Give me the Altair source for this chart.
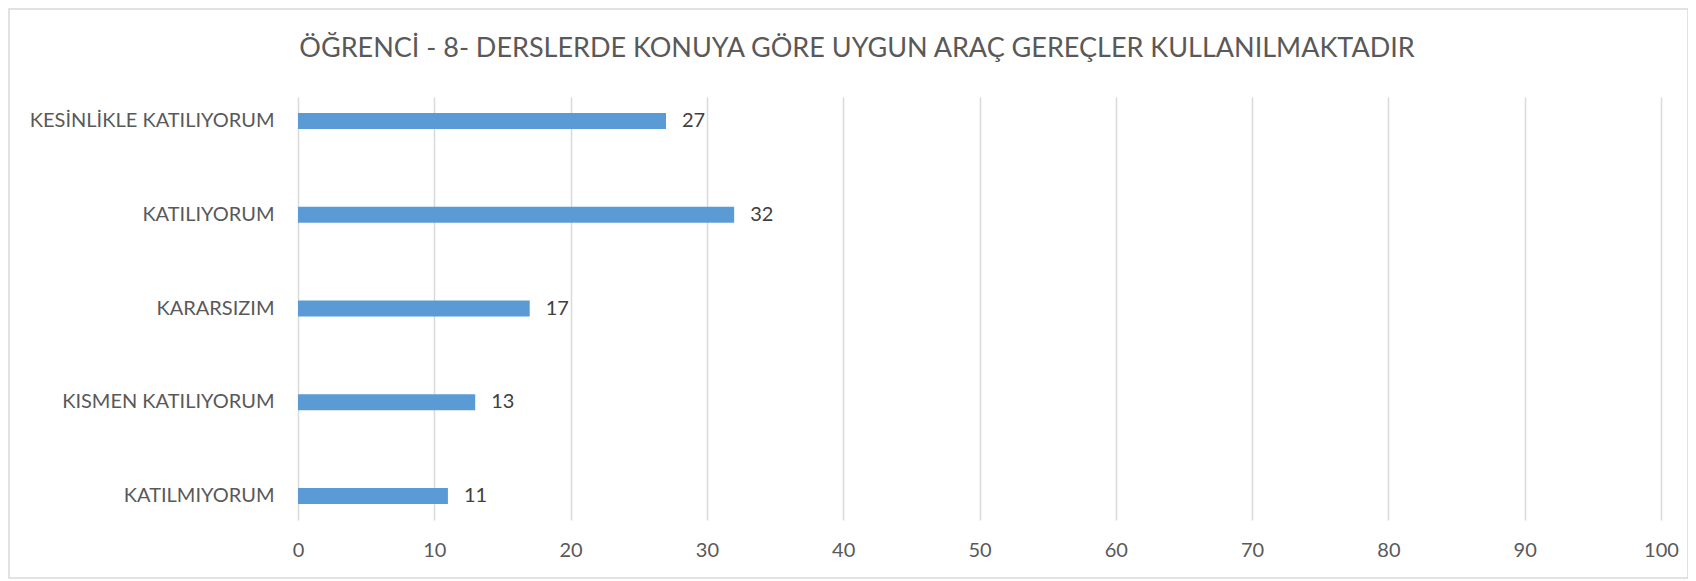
import altair as alt
import pandas as pd

categories = ["KESİNLİKLE KATILIYORUM", "KATILIYORUM", "KARARSIZIM", "KISMEN KATILIYORUM", "KATILMIYORUM"]
values = [27, 32, 17, 13, 11]
x_ticks = [0, 10, 20, 30, 40, 50, 60, 70, 80, 90, 100]
title_text = "ÖĞRENCİ - 8- DERSLERDE KONUYA GÖRE UYGUN ARAÇ GEREÇLER KULLANILMAKTADIR"

df = pd.DataFrame({"cat": categories, "val": values})

FONT = "Lato"
W, H = 1363, 423

y_enc = alt.Y("cat:N", sort=categories, title=None,
              scale=alt.Scale(paddingInner=0.83, paddingOuter=0.17),
              axis=alt.Axis(labelFont=FONT, labelFontSize=20, labelColor="#595959", labelLimit=400,
                            labelPadding=24, ticks=False, domain=False, grid=False))
x_enc = alt.X("val:Q", title=None,
              scale=alt.Scale(domain=[0, 100], nice=False),
              axis=alt.Axis(values=x_ticks, labelFont=FONT, labelFontSize=20, labelColor="#595959",
                            labelPadding=20, labelFlush=False, ticks=False, domain=False, grid=True,
                            gridColor="#D9D9D9", gridWidth=1.5))

bars = alt.Chart(df).mark_bar(color="#5B9BD5").encode(x=x_enc, y=y_enc)
labels = alt.Chart(df).mark_text(align="left", baseline="middle", dx=16, font=FONT,
                                 fontSize=20, color="#404040").encode(
    x="val:Q", y=alt.Y("cat:N", sort=categories), text="val:Q")

border = alt.Chart(df.head(1)).mark_rect(fill=None, stroke="#D9D9D9", strokeWidth=1.5).encode(
    x=alt.value(-289), x2=alt.value(1390), y=alt.value(-88), y2=alt.value(481))

title_mark = alt.Chart(df.head(1)).mark_text(
    font=FONT, fontSize=27, color="#595959", align="center", baseline="alphabetic").encode(
    x=alt.value(559), y=alt.value(-40), text=alt.value(title_text))

chart = alt.layer(border, bars, labels, title_mark).properties(
    width=W, height=H,
    autosize=alt.AutoSizeParams(type="none"),
    padding={"left": 290, "top": 89, "right": 27, "bottom": 60},
).configure_view(stroke=None)

chart.save("out.html", embed_options={"renderer": "svg", "actions": False})
